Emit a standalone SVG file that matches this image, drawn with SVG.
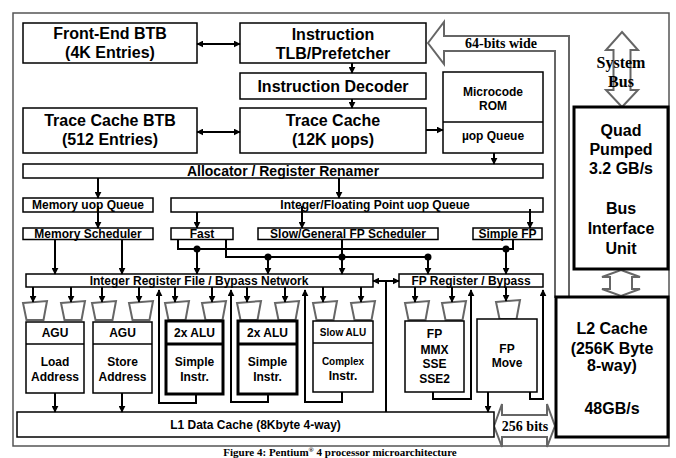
<svg xmlns="http://www.w3.org/2000/svg" width="676" height="458" viewBox="0 0 676 458">
<defs>
<style>
.box{fill:#fff;stroke:#000;stroke-width:1.5}
.thick{fill:#fff;stroke:#000;stroke-width:3}
.t{font-family:"Liberation Sans",Arial,sans-serif;font-weight:bold;text-anchor:middle;fill:#000}
.f16{font-size:16px}.f14{font-size:14px}.f12{font-size:12px}.f10{font-size:10px}
.serif{font-family:"Liberation Serif","Times New Roman",serif;font-weight:bold;font-size:14px;text-anchor:middle;fill:#000}
.hollow{fill:#fff;stroke:#666;stroke-width:2;stroke-linejoin:miter}
.port{fill:#fff;stroke:#666;stroke-width:2}
.frame{fill:none;stroke:#555;stroke-width:1.5}
.c{stroke:#000;stroke-width:2;fill:none}
.a{marker-end:url(#ah)}
.d{marker-start:url(#ah);marker-end:url(#ah)}
</style>
<marker id="ah" viewBox="0 0 10 10" refX="9" refY="5" markerWidth="7" markerHeight="7" markerUnits="userSpaceOnUse" orient="auto-start-reverse"><path d="M0,0 L10,5 L0,10 z" fill="#000"/></marker>
<polygon id="port" class="port" points="-12,303 12,301 8.5,320 -8.5,320"/>
</defs>
<rect width="676" height="458" fill="#fff"/>
<rect class="frame" x="13" y="13" width="656" height="433"/>

<g id="bus64">
<polygon class="hollow" points="428,43 444,22 444,36 569,36 569,297 555,297 555,51 444,51 444,64"/>
<text class="serif" x="501" y="48">64-bits wide</text>
</g>
<g id="systembus">
<polygon class="hollow" points="622,32 638,50 630.5,50 630.5,90 638,90 622,107 606,90 613.5,90 613.5,50 606,50"/>
<text class="serif" x="621" y="68" style="font-size:16px">System</text>
<text class="serif" x="621" y="87" style="font-size:16px">Bus</text>
</g>
<g id="biu-l2">
<polygon class="hollow" points="621,270 640,277 632,277 632,289 640,289 621,296 602,289 610,289 610,277 602,277"/>
</g>
<g id="bus256">
<polygon class="hollow" points="494,426 502,404 502,415 547,415 547,404 555,426 547,447 547,437 502,437 502,447"/>
<text class="serif" x="525" y="431">256 bits</text>
</g>

<g id="frontend-btb"><rect class="box" x="23" y="23" width="174" height="40"/>
<text class="t f16" x="110" y="39">Front-End BTB</text><text class="t f16" x="110" y="58">(4K Entries)</text></g>
<g id="itlb"><rect class="box" x="240" y="23" width="186" height="40"/>
<text class="t f16" x="333" y="40">Instruction</text><text class="t f16" x="333" y="59">TLB/Prefetcher</text></g>
<g id="decoder"><rect class="box" x="240" y="73" width="186" height="26"/>
<text class="t f16" x="333" y="92">Instruction Decoder</text></g>
<g id="trace-cache"><rect class="box" x="240" y="108" width="186" height="45"/>
<text class="t f16" x="333" y="126">Trace Cache</text><text class="t f16" x="333" y="145">(12K µops)</text></g>
<g id="trace-btb"><rect class="box" x="23" y="108" width="174" height="45"/>
<text class="t f16" x="110" y="126">Trace Cache BTB</text><text class="t f16" x="110" y="145">(512 Entries)</text></g>
<g id="microcode"><rect class="box" x="443" y="72" width="100" height="81"/>
<line x1="443" y1="122" x2="543" y2="122" stroke="#000" stroke-width="1.5"/>
<text class="t f12" x="493" y="96">Microcode</text><text class="t f12" x="493" y="110">ROM</text>
<text class="t f12" x="493" y="140">µop Queue</text></g>
<g id="allocator"><rect class="box" x="23" y="164" width="520" height="14"/>
<text class="t f14" x="283" y="176">Allocator / Register Renamer</text></g>
<g id="mem-queue"><rect class="box" x="23" y="198" width="130" height="14"/>
<text class="t f12" x="88" y="209">Memory uop Queue</text></g>
<g id="mem-sched"><rect class="box" x="23" y="228" width="130" height="11.5"/>
<text class="t f12" x="88" y="237.5">Memory Scheduler</text></g>
<g id="intfp-queue"><rect class="box" x="171" y="198" width="372" height="14"/>
<text class="t f12" x="375" y="209">Integer/Floating Point uop Queue</text></g>
<g id="fast"><rect class="box" x="171" y="228" width="62" height="11.5"/>
<text class="t f12" x="202" y="237.5">Fast</text></g>
<g id="slow-sched"><rect class="box" x="258" y="228" width="180" height="11.5"/>
<text class="t f12" x="348" y="237.5">Slow/General FP Scheduler</text></g>
<g id="simple-fp"><rect class="box" x="473" y="228" width="69" height="11.5"/>
<text class="t f12" x="507.5" y="237.5">Simple FP</text></g>
<g id="int-regfile"><rect class="box" x="26" y="274" width="347" height="13"/>
<text class="t f12" x="199" y="285">Integer Register File / Bypass Network</text></g>
<g id="fp-regfile"><rect class="box" x="399" y="274" width="144" height="13"/>
<text class="t f12" x="471" y="285">FP Register / Bypass</text></g>

<g id="agu-load"><use href="#port" x="35"/><use href="#port" x="73"/>
<rect class="box" x="26" y="322" width="58" height="71"/><line x1="26" y1="344" x2="84" y2="344" stroke="#000" stroke-width="1.5"/>
<text class="t f12" x="55" y="337">AGU</text><text class="t f12" x="55" y="366">Load</text><text class="t f12" x="55" y="381">Address</text></g>
<g id="agu-store"><use href="#port" x="104"/><use href="#port" x="141"/>
<rect class="box" x="93" y="322" width="59" height="71"/><line x1="93" y1="344" x2="152" y2="344" stroke="#000" stroke-width="1.5"/>
<text class="t f12" x="122.5" y="337">AGU</text><text class="t f12" x="122.5" y="366">Store</text><text class="t f12" x="122.5" y="381">Address</text></g>
<g id="alu1"><use href="#port" x="177"/><use href="#port" x="214"/>
<rect class="thick" x="166" y="321" width="57" height="73"/><line x1="166" y1="344" x2="223" y2="344" stroke="#000" stroke-width="3"/>
<text class="t f12" x="194.5" y="337">2x ALU</text><text class="t f12" x="194.5" y="366">Simple</text><text class="t f12" x="194.5" y="381">Instr.</text></g>
<g id="alu2"><use href="#port" x="249"/><use href="#port" x="287"/>
<rect class="thick" x="238" y="321" width="59" height="73"/><line x1="238" y1="344" x2="297" y2="344" stroke="#000" stroke-width="3"/>
<text class="t f12" x="267.5" y="337">2x ALU</text><text class="t f12" x="267.5" y="366">Simple</text><text class="t f12" x="267.5" y="381">Instr.</text></g>
<g id="slow-alu"><use href="#port" x="325"/><use href="#port" x="363"/>
<rect class="box" x="313" y="321" width="60" height="71"/><line x1="313" y1="343" x2="373" y2="343" stroke="#000" stroke-width="1.5"/>
<text class="t f10" x="343" y="336">Slow ALU</text><text class="t f10" x="343" y="365">Complex</text><text class="t f12" x="343" y="380">Instr.</text></g>
<g id="fp-mmx"><use href="#port" x="417"/><use href="#port" x="454"/>
<rect class="box" x="405" y="321" width="59" height="71"/>
<text class="t f12" x="434.5" y="338">FP</text><text class="t f12" x="434.5" y="354">MMX</text><text class="t f12" x="434.5" y="368">SSE</text><text class="t f12" x="434.5" y="383">SSE2</text></g>
<g id="fp-move"><use href="#port" x="508" y="-1"/>
<rect class="box" x="477" y="319" width="60" height="73"/>
<text class="t f12" x="507" y="353">FP</text><text class="t f12" x="507" y="367">Move</text></g>
<g id="l1-cache"><rect class="box" x="17" y="412" width="477" height="25"/>
<text class="t f12" x="255.5" y="429">L1 Data Cache (8Kbyte 4-way)</text></g>
<g id="biu"><rect class="thick" x="574" y="107" width="94" height="162"/>
<text class="t f16" x="621" y="136">Quad</text><text class="t f16" x="621" y="155">Pumped</text><text class="t f16" x="621" y="174">3.2 GB/s</text>
<text class="t f16" x="621" y="214">Bus</text><text class="t f16" x="621" y="234">Interface</text><text class="t f16" x="621" y="254">Unit</text></g>
<g id="l2-cache"><rect class="thick" x="556" y="297" width="112" height="140"/>
<text class="t f16" x="612" y="334">L2 Cache</text><text class="t f16" x="612" y="354">(256K Byte</text><text class="t f16" x="612" y="371">8-way)</text>
<text class="t f16" x="612" y="414">48GB/s</text></g>

<g id="connectors">
<line class="c d" x1="197" y1="44" x2="240" y2="44"/>
<line class="c d" x1="197" y1="132" x2="240" y2="132"/>
<line class="c a" x1="352" y1="63" x2="352" y2="73"/>
<line class="c a" x1="352" y1="99" x2="352" y2="108"/>
<line class="c a" x1="426" y1="130" x2="443" y2="130"/>
<line class="c a" x1="494" y1="153" x2="494" y2="164"/>
<line class="c a" x1="98" y1="178" x2="98" y2="198"/>
<line class="c a" x1="339" y1="178" x2="339" y2="198"/>
<line class="c a" x1="98" y1="206" x2="98" y2="228"/>
<line class="c a" x1="197" y1="212" x2="197" y2="228"/>
<line class="c a" x1="302" y1="206" x2="302" y2="228"/>
<line class="c a" x1="530" y1="209" x2="530" y2="228"/>
<line class="c a" x1="55" y1="239" x2="55" y2="274"/>
<line class="c a" x1="122" y1="239" x2="122" y2="274"/>
<path class="c" d="M178,239.5 V249 H513 V239.5"/>
<path class="c" d="M226,239.5 V257 H428"/>
<path class="c" d="M342,239.5 V257"/>
<g fill="#000"><circle cx="197" cy="249" r="3.5"/><circle cx="506" cy="249" r="3.5"/>
<circle cx="268" cy="257" r="3.5"/><circle cx="342" cy="257" r="3.5"/><circle cx="428" cy="257" r="3.5"/></g>
<line class="c a" x1="197" y1="249" x2="197" y2="274"/>
<line class="c a" x1="506" y1="249" x2="506" y2="274"/>
<line class="c a" x1="268" y1="257" x2="268" y2="274"/>
<line class="c a" x1="342" y1="257" x2="342" y2="274"/>
<line class="c a" x1="428" y1="257" x2="428" y2="274"/>
<line class="c d" x1="373" y1="281" x2="399" y2="281"/>
<line class="c" x1="386" y1="281" x2="386" y2="412"/>
<line class="c a" x1="33" y1="287" x2="33" y2="302"/>
<line class="c a" x1="71" y1="287" x2="71" y2="302"/>
<line class="c a" x1="102" y1="287" x2="102" y2="302"/>
<line class="c a" x1="139" y1="287" x2="139" y2="302"/>
<line class="c a" x1="175" y1="287" x2="175" y2="302"/>
<line class="c a" x1="212" y1="287" x2="212" y2="302"/>
<line class="c a" x1="247" y1="287" x2="247" y2="302"/>
<line class="c a" x1="285" y1="287" x2="285" y2="302"/>
<line class="c a" x1="323" y1="287" x2="323" y2="302"/>
<line class="c a" x1="361" y1="287" x2="361" y2="302"/>
<line class="c a" x1="415" y1="287" x2="415" y2="302"/>
<line class="c a" x1="452" y1="287" x2="452" y2="302"/>
<line class="c a" x1="506" y1="287" x2="506" y2="301"/>
<line class="c a" x1="55" y1="393" x2="55" y2="412"/>
<line class="c a" x1="122" y1="393" x2="122" y2="412"/>
<path class="c a" d="M196,395 V403 H159 V290"/>
<path class="c a" d="M268,395 V402 H231 V290"/>
<path class="c a" d="M342,392 V402 H305 V290"/>
<path class="c a" d="M433,392 V399 H471 V290"/>
<line class="c a" x1="488" y1="392" x2="488" y2="412"/>
<path class="c a" d="M530,392 V399 H543 V290"/>
</g>
<text class="serif" x="340" y="455.5" style="font-size:11px">Figure 4: Pentium<tspan dy="-4" style="font-size:7px">®</tspan><tspan dy="4"> 4 processor microarchitecture</tspan></text>
</svg>
